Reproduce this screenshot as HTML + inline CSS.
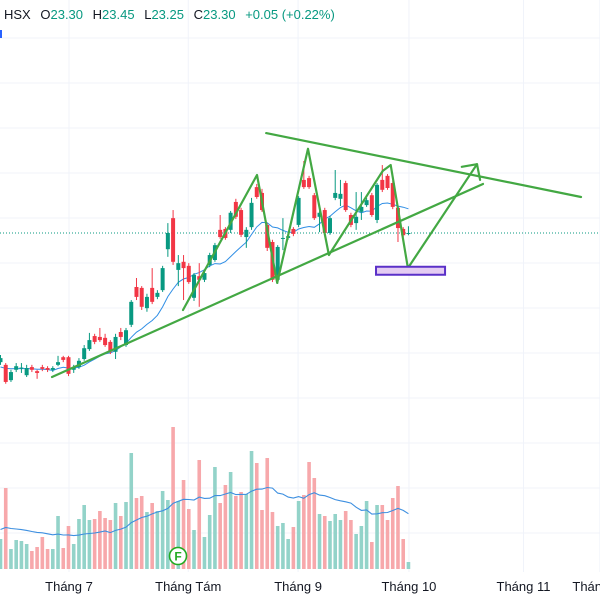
<!DOCTYPE html>
<html><head><meta charset="utf-8">
<style>
html,body{margin:0;padding:0;background:#fff;}
#wrap{position:relative;width:600px;height:600px;overflow:hidden;font-family:"Liberation Sans",sans-serif;}
#hdr{position:absolute;left:4px;top:7px;font-size:13px;color:#131722;white-space:nowrap;}
#hdr .v{color:#089981;}
#hdr span{margin-right:6px;}
</style></head>
<body>
<div id="wrap">
<svg id="chart" width="600" height="600"></svg>
<div id="hdr"><span>HSX</span> <span>O<b class="v" style="font-weight:normal">23.30</b></span> <span>H<b class="v" style="font-weight:normal">23.45</b></span> <span>L<b class="v" style="font-weight:normal">23.25</b></span> <span>C<b class="v" style="font-weight:normal">23.30</b></span> <span class="v">+0.05 (+0.22%)</span></div>
</div>
<script>
const opens=[20.43,20.37,20.03,20.26,20.30,20.14,20.32,20.23,20.32,20.30,20.26,20.37,20.54,20.54,20.26,20.32,20.50,20.72,21.01,20.99,20.97,20.88,20.66,21.10,20.81,21.26,22.10,22.08,21.63,22.08,21.88,22.03,22.94,23.63,22.48,22.66,22.57,21.86,22.34,22.26,22.59,22.70,23.37,23.39,23.37,23.99,23.81,23.21,23.43,24.32,24.19,23.48,23.10,22.26,23.17,23.19,23.39,23.48,24.48,24.52,24.14,23.66,23.81,23.30,24.08,24.06,24.41,23.70,23.52,23.77,23.92,24.14,23.59,24.48,24.57,24.41,23.86,23.39,23.30];
const highs=[20.59,20.41,20.26,20.41,20.41,20.37,20.37,20.26,20.37,20.34,20.34,20.57,20.57,20.57,20.37,20.52,20.81,21.08,21.06,21.19,21.06,20.92,21.06,21.19,21.19,21.81,22.30,22.12,21.95,22.52,22.03,22.57,23.52,23.81,22.81,22.81,22.63,22.41,22.63,22.46,22.86,23.08,23.70,23.43,23.79,24.06,23.86,23.43,24.08,24.39,24.28,23.52,23.15,23.03,23.63,23.30,23.43,24.12,24.90,24.57,24.19,23.92,23.86,23.68,24.70,24.48,24.46,23.75,24.21,24.21,24.08,24.19,24.41,24.81,24.61,24.46,23.90,23.43,23.45];
const lows=[20.37,19.95,19.99,20.21,20.19,20.10,20.21,20.06,20.23,20.21,20.21,20.34,20.43,20.12,20.19,20.28,20.46,20.68,20.83,20.88,20.77,20.61,20.50,20.92,20.77,21.21,21.81,21.59,21.55,21.72,21.83,21.99,22.77,22.59,22.12,21.81,22.17,21.79,21.66,22.21,22.54,22.66,23.17,23.15,23.30,23.61,23.21,22.97,23.37,24.06,23.77,22.90,22.21,22.17,22.92,23.15,23.23,23.43,24.28,24.28,23.59,23.32,23.26,23.26,24.03,23.90,23.77,23.43,23.37,23.59,23.88,23.66,23.52,24.21,24.26,23.83,23.10,23.21,23.25];
const closes=[20.52,19.99,20.21,20.34,20.31,20.30,20.26,20.19,20.28,20.26,20.30,20.43,20.48,20.17,20.32,20.46,20.74,20.92,20.88,20.92,20.81,20.66,20.99,20.99,21.14,21.77,21.88,21.66,21.88,21.77,21.97,22.52,23.30,22.66,22.63,22.52,22.21,22.37,22.26,22.41,22.81,23.03,23.21,23.19,23.75,23.66,23.26,23.37,23.97,24.10,23.81,22.97,22.26,22.99,23.19,23.23,23.28,24.08,24.32,24.32,23.63,23.75,23.30,23.63,24.19,24.17,23.81,23.48,23.66,23.88,24.03,23.70,24.37,24.26,24.30,23.88,23.41,23.25,23.30];
const volumes=[30,81,20,29,28,25,18,22,32,20,20,53,21,43,25,50,64,49,50,58,51,49,66,53,67,116,71,73,57,66,58,78,69,142,68,89,60,39,109,32,54,102,66,84,97,73,77,75,118,106,59,111,57,43,46,30,42,68,74,107,91,55,53,48,55,49,58,49,35,43,68,27,64,64,49,71,83,30,7];
const volPrior=[40,40,40,40,40,40,40,40,40,40,40,40,40,40,40,40,40,40,40,40];
const priceStart=[20.3,20.3,20.3,20.3,20.3,20.3,20.3,20.3,20.3,20.3];
const monthLabels=["Tháng 7","Tháng Tám","Tháng 9","Tháng 10","Tháng 11","Tháng 12"];
const monthIdx=[13.1,35.9,56.9,78.1,100,114.6];
const maPeriod=10, volMaPeriod=20;

const svg=document.getElementById('chart');
const NS='http://www.w3.org/2000/svg';
function xS(i){return 0.5+i*5.23;}
function yS(p){return 1281.5-p*45;}
function vS(v){return 569-v;}
function mk(tag,attrs,parent){const e=document.createElementNS(NS,tag);for(const k in attrs)e.setAttribute(k,attrs[k]);(parent||svg).appendChild(e);return e;}

const grid=mk('g',{});


for(let y=38;y<=533;y+=45){mk('line',{x1:0,x2:600,y1:y,y2:y,stroke:'#f0f3fa','stroke-width':1},grid);}
monthIdx.forEach(i=>{mk('line',{x1:xS(i),x2:xS(i),y1:0,y2:572,stroke:'#f0f3fa','stroke-width':1},grid);});

const vg=mk('g',{});


volumes.forEach((v,i)=>{
  const up=closes[i]>=opens[i];
  const r=mk('rect',{x:xS(i)-1.8,y:vS(v),width:3.6,height:v,fill:up?'#93d3c9':'#f7a8ab'},vg);
  
  
});
const vAll=volPrior.concat(volumes);
let vpts=[];
volumes.forEach((v,i)=>{const j=i+volPrior.length;const s=vAll.slice(j-volMaPeriod+1,j+1);const m=s.reduce((a,b)=>a+b,0)/s.length;vpts.push(xS(i).toFixed(1)+','+vS(m).toFixed(1));});
const vma=mk('polyline',{points:vpts.join(' '),fill:'none',stroke:'#3d8fe0','stroke-width':1.1});



const lp=mk('line',{x1:0,x2:600,y1:yS(closes[closes.length-1]),y2:yS(closes[closes.length-1]),stroke:'#089981','stroke-width':1,'stroke-dasharray':'1 2'});



const cAll=priceStart.concat(closes);
let ppts=[];
closes.forEach((c,i)=>{const j=i+priceStart.length;const s=cAll.slice(j-maPeriod+1,j+1);const m=s.reduce((a,b)=>a+b,0)/s.length;ppts.push(xS(i).toFixed(1)+','+yS(m).toFixed(1));});
const pma=mk('polyline',{points:ppts.join(' '),fill:'none',stroke:'#2f8ee5','stroke-width':1});



const cg=mk('g',{});


opens.forEach((o,i)=>{
  const c=closes[i],up=c>=o,col=up?'#089981':'#f23645';
  const g=mk('g',{},cg);
  
  
  mk('line',{x1:xS(i),x2:xS(i),y1:yS(highs[i]),y2:yS(lows[i]),stroke:col,'stroke-width':1},g);
  const t=yS(Math.max(o,c)),b=yS(Math.min(o,c));
  mk('rect',{x:xS(i)-2,y:t,width:4,height:Math.max(1,b-t),fill:col},g);
});

function P(i,p){return xS(i).toFixed(1)+','+yS(p).toFixed(1);}
const dg=mk('g',{fill:'none',stroke:'#43a843','stroke-width':2.2,'stroke-linecap':'round','stroke-linejoin':'round'});


const lt=mk('line',{x1:xS(9.85),y1:yS(20.10),x2:xS(92.25),y2:yS(24.39)},dg);


const ut=mk('line',{x1:xS(50.8),y1:yS(25.52),x2:xS(111),y2:yS(24.10)},dg);


const zz=mk('polyline',{points:[P(34.9,21.59),P(49.05,24.59),P(52.9,22.19),P(58.8,25.17),P(62.8,22.81),P(73.1,24.68),P(74.6,24.81),P(77.9,22.52),P(91.1,24.83)].join(' ')},dg);


const ah=mk('polyline',{points:[P(88.2,24.77),P(91.1,24.83),P(91.7,24.48)].join(' ')},dg);


const tz=mk('rect',{x:xS(71.8),y:yS(22.55),width:xS(85)-xS(71.8),height:8,fill:'#e4ccf2',stroke:'#5a30c8','stroke-width':2});



const fg=mk('g',{});


mk('circle',{cx:178,cy:556,r:8.5,fill:'#fff',stroke:'#22ab22','stroke-width':1.6},fg);
const ft=mk('text',{x:178,y:560.5,'text-anchor':'middle','font-size':12,'font-weight':'bold',fill:'#22ab22','font-family':'Liberation Sans, sans-serif'},fg);
ft.textContent='F';

monthLabels.forEach((m,k)=>{
  const t=mk('text',{x:xS(monthIdx[k]),y:591,'text-anchor':'middle','font-size':13,fill:'#131722','font-family':'Liberation Sans, sans-serif'});
  
  
  t.textContent=m;
});
const lm=mk('rect',{x:0,y:30,width:2,height:8,fill:'#2962ff'});


</script>
</body></html>
